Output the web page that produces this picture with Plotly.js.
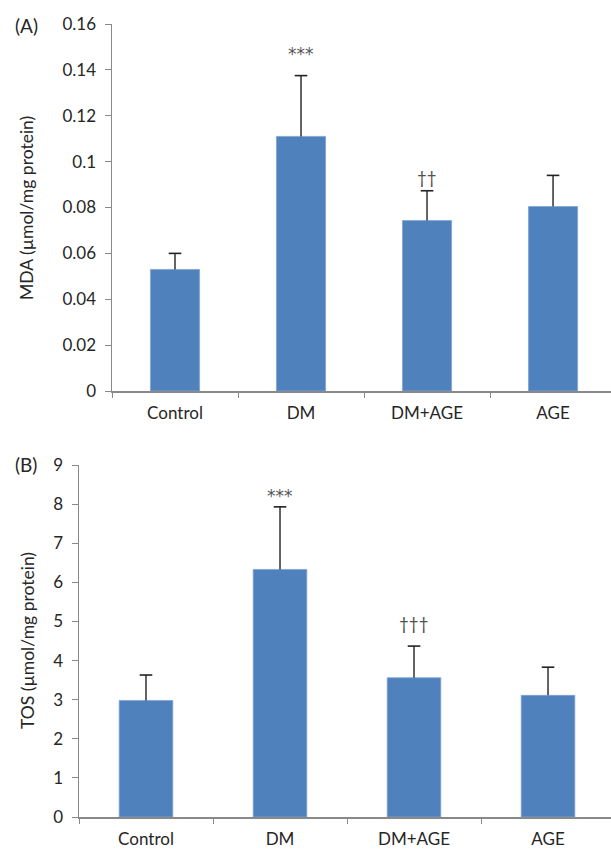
<!DOCTYPE html>
<html>
<head>
<meta charset="utf-8">
<script src="https://cdn.plot.ly/plotly-3.0.1.min.js"></script>
<style>html,body{margin:0;padding:0;background:#fff}#chart{width:611px;height:852px}</style>
</head>
<body>
<div id="chart"></div>
<script>
const categories = ["Control", "DM", "DM+AGE", "AGE"];
const mdaValues = [0.053, 0.111, 0.0743, 0.0804];
const mdaErrors = [0.007, 0.0265, 0.013, 0.0136];
const tosValues = [2.98, 6.33, 3.56, 3.11];
const tosErrors = [0.65, 1.6, 0.81, 0.72];
const mdaMarks = ["", "***", "††", ""];
const tosMarks = ["", "***", "†††", ""];
const mdaTicks = [0, 0.02, 0.04, 0.06, 0.08, 0.1, 0.12, 0.14, 0.16];
const mdaTickText = ["0", "0.02", "0.04", "0.06", "0.08", "0.1", "0.12", "0.14", "0.16"];
const tosTicks = [0, 1, 2, 3, 4, 5, 6, 7, 8, 9];

const W = 611, H = 852;
const FONT = "Lato, 'Open Sans', sans-serif";
const STAR_FONT = "'DejaVu Sans', sans-serif";
const BAR = "#4F81BD";
const AX = "#898989";
const TXT = "#262626";
const ERR = "#222222";

function errTop(v, e) { return v.map((x, i) => x + e[i]); }

const stem = {type: "data", symmetric: false, arrayminus: [0, 0, 0, 0], color: ERR, thickness: 1.4, width: 0};

const traces = [
  {type: "bar", x: categories, y: mdaValues, xaxis: "x", yaxis: "y", width: 0.39,
   marker: {color: BAR, line: {color: "#7FA3D3", width: 0.8}},
   error_y: Object.assign({}, stem, {array: mdaErrors}), hoverinfo: "none"},
  {type: "scatter", mode: "markers", x: categories, y: errTop(mdaValues, mdaErrors), xaxis: "x", yaxis: "y",
   marker: {symbol: "line-ew-open", size: 9, color: ERR, line: {color: ERR, width: 1.6}}, hoverinfo: "none"},
  {type: "bar", x: categories, y: tosValues, xaxis: "x2", yaxis: "y2", width: 0.40,
   marker: {color: BAR, line: {color: "#7FA3D3", width: 0.8}},
   error_y: Object.assign({}, stem, {array: tosErrors}), hoverinfo: "none"},
  {type: "scatter", mode: "markers", x: categories, y: errTop(tosValues, tosErrors), xaxis: "x2", yaxis: "y2",
   marker: {symbol: "line-ew-open", size: 9, color: ERR, line: {color: ERR, width: 1.6}}, hoverinfo: "none"}
];

const annotations = [];
const shiftsA = {"***": 22, "††": 13};
const shiftsB = {"***": 11, "†††": 23};
function markFont(m) {
  return m === "***" ? {family: STAR_FONT, size: 17, color: "#555"} : {family: FONT, size: 17, color: "#505050"};
}
mdaMarks.forEach((m, i) => {
  if (!m) return;
  annotations.push({xref: "x", yref: "y", x: categories[i], y: mdaValues[i] + mdaErrors[i],
    yanchor: "middle", yshift: shiftsA[m], text: m, showarrow: false, font: markFont(m)});
});
tosMarks.forEach((m, i) => {
  if (!m) return;
  annotations.push({xref: "x2", yref: "y2", x: categories[i], y: tosValues[i] + tosErrors[i],
    yanchor: "middle", yshift: shiftsB[m], text: m, showarrow: false, font: markFont(m)});
});
annotations.push(
  {xref: "paper", yref: "paper", x: 27 / W, y: 1 - 208 / H, text: "MDA (µmol/mg protein)", textangle: -90,
   showarrow: false, xanchor: "center", yanchor: "middle", font: {family: FONT, size: 17.5, color: TXT}},
  {xref: "paper", yref: "paper", x: 27 / W, y: 1 - 641 / H, text: "TOS (µmol/mg protein)", textangle: -90,
   showarrow: false, xanchor: "center", yanchor: "middle", font: {family: FONT, size: 17.5, color: TXT}},
  {xref: "paper", yref: "paper", x: 13 / W, y: 1 - 25 / H, text: "(A)", showarrow: false,
   xanchor: "left", yanchor: "middle", font: {family: FONT, size: 19, color: TXT}},
  {xref: "paper", yref: "paper", x: 13 / W, y: 1 - 464 / H, text: "(B)", showarrow: false,
   xanchor: "left", yanchor: "middle", font: {family: FONT, size: 19, color: TXT}}
);

const xBase = {type: "category", showline: true, linecolor: AX, linewidth: 1.5, ticks: "outside",
  tickson: "boundaries", ticklen: 5, tickcolor: AX, tickwidth: 1, showgrid: false, zeroline: false,
  ticklabelstandoff: 6, tickfont: {family: FONT, size: 17, color: TXT}, fixedrange: true};
const yBase = {showline: true, linecolor: AX, linewidth: 1.5, ticks: "outside", ticklen: 6,
  tickcolor: AX, tickwidth: 1, showgrid: false, zeroline: false, ticklabelstandoff: 5,
  tickfont: {family: FONT, size: 17, color: TXT}, fixedrange: true};

const layout = {
  width: W, height: H,
  margin: {l: 0, r: 0, t: 0, b: 0},
  paper_bgcolor: "#fff", plot_bgcolor: "#fff",
  showlegend: false,
  font: {family: FONT, color: TXT},
  xaxis: Object.assign({}, xBase, {domain: [112 / W, 1], range: [-0.5, 3.46], anchor: "y"}),
  yaxis: Object.assign({}, yBase, {domain: [1 - 391 / H, 1 - 24 / H], range: [0, 0.16],
    tickvals: mdaTicks, ticktext: mdaTickText, anchor: "x"}),
  xaxis2: Object.assign({}, xBase, {domain: [79 / W, 1], range: [-0.5, 3.47], anchor: "y2"}),
  yaxis2: Object.assign({}, yBase, {domain: [1 - 817 / H, 1 - 465 / H], range: [0, 9],
    tickvals: tosTicks, anchor: "x2"}),
  annotations: annotations
};

Plotly.newPlot("chart", traces, layout, {displayModeBar: false, staticPlot: true});
</script>
</body>
</html>
